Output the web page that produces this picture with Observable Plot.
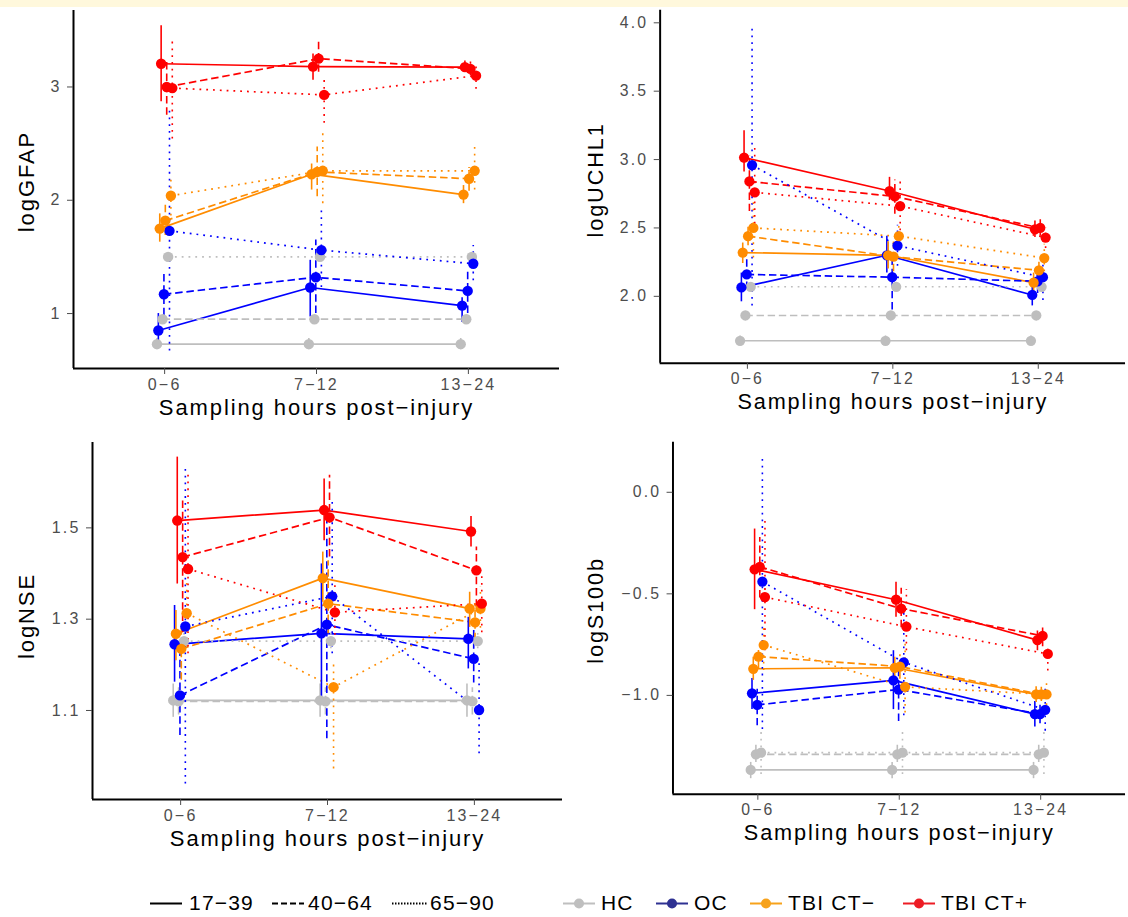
<!DOCTYPE html>
<html><head><meta charset="utf-8">
<script src="https://cdn.jsdelivr.net/npm/d3@7"></script>
<script src="https://cdn.jsdelivr.net/npm/@observablehq/plot@0.6"></script>
<style>
body{margin:0;background:#fff;}
#wrap{position:relative;width:1128px;height:917px;overflow:hidden;background:#fff;font-family:'Liberation Sans',Arial,Helvetica,sans-serif;}
#band{position:absolute;left:0;top:0;width:1128px;height:7px;background:#FFF8DC;}
.panel{position:absolute;}
.leg{position:absolute;top:890px;height:26px;font-size:21px;letter-spacing:1.2px;color:#000;line-height:26px;white-space:nowrap;}
.sw{position:absolute;top:891px;}
</style></head>
<body><div id="wrap"><div id="band"></div></div>
<script>
const times = ["0−6", "7−12", "13−24"];
const groups = ["HC", "OC", "TBI CT−", "TBI CT+"];
const ages = ["17−39", "40−64", "65−90"];
const groupColors = ["#BEBEBE", "#0000FF", "#FF8C00", "#FF0000"];
const legendColors = ["#BFBFBF", "#2E3192", "#F7A21B", "#ED1C24"];

// rows: HC(17−39,40−64,65−90), OC(...), TBI CT−(...), TBI CT+(...); columns: times
const gfapMean = [
  [0.73,0.73,0.73],[0.95,0.95,0.95],[1.50,1.50,1.50],
  [0.85,1.23,1.07],[1.17,1.32,1.20],[1.73,1.56,1.44],
  [1.75,2.23,2.05],[1.82,2.25,2.19],[2.04,2.26,2.26],
  [3.205,3.18,3.175],[3.00,3.25,3.16],[2.99,2.93,3.10]];
const gfapLo = [
  [0.68,0.68,0.68],[0.91,0.91,0.91],[1.47,1.47,1.47],
  [0.70,0.97,0.92],[0.98,1.00,1.00],[0.67,1.23,1.29],
  [1.63,2.09,1.97],[1.69,2.03,2.08],[1.86,1.97,2.09],
  [2.87,3.06,3.13],[2.75,3.13,3.10],[2.54,2.68,2.98]];
const gfapHi = [
  [0.78,0.78,0.78],[0.99,0.99,0.99],[1.53,1.53,1.53],
  [1.00,1.47,1.14],[1.38,1.65,1.38],[2.79,1.91,1.60],
  [1.88,2.32,2.13],[1.96,2.47,2.29],[2.20,2.59,2.47],
  [3.54,3.29,3.23],[3.25,3.40,3.22],[3.44,3.09,3.22]];

const uchl1Mean = [
  [1.675,1.675,1.675],[1.86,1.86,1.86],[2.07,2.07,2.07],
  [2.065,2.30,2.01],[2.16,2.14,2.11],[2.96,2.37,2.14],
  [2.32,2.30,2.10],[2.44,2.29,2.19],[2.50,2.44,2.28],
  [3.015,2.77,2.49],[2.84,2.73,2.50],[2.76,2.66,2.43]];
const uchl1Lo = [
  [1.64,1.64,1.64],[1.82,1.82,1.82],[2.04,2.04,2.04],
  [1.96,2.17,1.93],[2.05,1.90,2.02],[1.93,2.22,1.97],
  [2.24,2.20,2.03],[2.37,2.18,2.13],[2.28,2.35,2.18],
  [2.91,2.70,2.43],[2.62,2.60,2.44],[2.48,2.43,2.35]];
const uchl1Hi = [
  [1.71,1.71,1.71],[1.90,1.90,1.90],[2.10,2.10,2.10],
  [2.17,2.44,2.07],[2.27,2.29,2.20],[3.98,2.52,2.27],
  [2.39,2.40,2.17],[2.51,2.40,2.25],[2.72,2.53,2.38],
  [3.21,2.87,2.55],[3.03,2.85,2.56],[3.11,2.86,2.50]];

const nseMean = [
  [1.122,1.122,1.122],[1.12,1.12,1.12],[1.252,1.252,1.252],
  [1.245,1.269,1.257],[1.133,1.288,1.213],[1.284,1.35,1.101],
  [1.268,1.39,1.323],[1.235,1.334,1.293],[1.313,1.151,1.323],
  [1.516,1.539,1.492],[1.436,1.523,1.407],[1.41,1.315,1.334]];
const nseLo = [
  [1.085,1.085,1.085],[1.09,1.09,1.09],[1.235,1.235,1.235],
  [1.162,1.122,1.191],[1.045,1.038,1.16],[0.939,1.224,1.005],
  [1.209,1.337,1.282],[1.166,1.268,1.253],[1.24,0.972,1.28],
  [1.377,1.472,1.458],[1.27,1.436,1.326],[1.224,1.25,1.27]];
const nseHi = [
  [1.158,1.158,1.158],[1.15,1.15,1.15],[1.27,1.27,1.27],
  [1.33,1.421,1.304],[1.224,1.53,1.282],[1.629,1.563,1.21],
  [1.319,1.447,1.359],[1.282,1.428,1.334],[1.38,1.209,1.37],
  [1.655,1.607,1.525],[1.56,1.615,1.458],[1.626,1.38,1.40]];

const s100bMean = [
  [-1.367,-1.367,-1.367],[-1.29,-1.29,-1.29],[-1.282,-1.282,-1.282],
  [-0.99,-0.926,-1.092],[-1.047,-0.971,-1.092],[-0.44,-0.837,-1.071],
  [-0.869,-0.864,-0.995],[-0.809,-0.858,-0.995],[-0.752,-0.958,-0.995],
  [-0.379,-0.529,-0.728],[-0.367,-0.573,-0.707],[-0.516,-0.662,-0.796]];
const s100bLo = [
  [-1.41,-1.41,-1.41],[-1.33,-1.33,-1.33],[-1.39,-1.39,-1.39],
  [-1.07,-1.07,-1.156],[-1.15,-1.128,-1.14],[-1.168,-1.10,-1.176],
  [-0.926,-0.926,-1.035],[-0.87,-0.92,-1.03],[-0.878,-1.087,-1.05],
  [-0.578,-0.615,-0.78],[-0.52,-0.667,-0.76],[-0.78,-0.78,-0.88]];
const s100bHi = [
  [-1.33,-1.33,-1.33],[-1.245,-1.245,-1.245],[-1.168,-1.168,-1.168],
  [-0.917,-0.78,-1.03],[-0.97,-0.84,-1.04],[0.175,-0.55,-0.97],
  [-0.812,-0.812,-0.957],[-0.76,-0.80,-0.96],[-0.65,-0.747,-0.94],
  [-0.181,-0.443,-0.683],[-0.222,-0.472,-0.65],[-0.133,-0.48,-0.765]];

const yTicksGFAP = [1, 2, 3];
const yTicksUCHL1 = [2.0, 2.5, 3.0, 3.5, 4.0];
const yTicksNSE = [1.1, 1.3, 1.5];
const yTicksS100b = [-1.0, -0.5, 0.0];

const dashes = [null, "7.5,3.8", "1.8,5"];
const dodgeWidth = 0.11;

function records(mean, lo, hi) {
  const out = [];
  groups.forEach((g, gi) => ages.forEach((a, ai) => times.forEach((t, ti) => {
    const row = gi * 3 + ai;
    const slot = ai * 4 + gi;
    out.push({group: g, age: a, ai, time: t, key: g + a,
      x: ti + 1 + (slot - 5.5) * dodgeWidth / 12,
      mean: mean[row][ti], lo: lo[row][ti], hi: hi[row][ti]});
  })));
  return out;
}

const panels = [
  {title: "logGFAP", data: records(gfapMean, gfapLo, gfapHi), left: 0, top: 0, width: 564, height: 430,
   ml: 73, mt: 10, mr: 5, mb: 62, yDomain: [0.515, 3.675], yTicks: yTicksGFAP, fmt: d => String(d), tdx: -47, tdy: -8},
  {title: "logUCHL1", data: records(uchl1Mean, uchl1Lo, uchl1Hi), left: 564, top: 0, width: 572, height: 430,
   ml: 97, mt: 10, mr: 3, mb: 62, yDomain: [1.51, 4.091], yTicks: yTicksUCHL1, fmt: d3.format(".1f"), tdx: -65, tdy: -7},
  {title: "logNSE", data: records(nseMean, nseLo, nseHi), left: 0, top: 430, width: 566, height: 430,
   ml: 92, mt: 12, mr: 4, mb: 61, yDomain: [0.905, 1.687], yTicks: yTicksNSE, fmt: d3.format(".1f"), tdx: -66, tdy: -5},
  {title: "logS100b", data: records(s100bMean, s100bLo, s100bHi), left: 566, top: 430, width: 570, height: 430,
   ml: 108, mt: 12, mr: 3, mb: 61, yDomain: [-1.487, 0.246], yTicks: yTicksS100b, fmt: d3.format(".1f"), tdx: -78, tdy: -8}
];

const wrap = document.getElementById("wrap");
for (const p of panels) {
  const marks = [];
  ages.forEach((a, ai) => {
    const sub = p.data.filter(d => d.ai === ai);
    marks.push(Plot.line(sub, {x: "x", y: "mean", z: "key", stroke: "group", strokeWidth: 1.7,
      strokeDasharray: dashes[ai] || undefined, strokeLinecap: "butt"}));
  });
  ages.forEach((a, ai) => {
    const sub = p.data.filter(d => d.ai === ai);
    marks.push(Plot.ruleX(sub, {x: "x", y1: "lo", y2: "hi", stroke: "group", strokeWidth: 1.6,
      strokeDasharray: dashes[ai] || undefined, strokeLinecap: "butt"}));
  });
  marks.push(Plot.dot(p.data, {x: "x", y: "mean", fill: "group", r: 5.2, stroke: "none"}));
  marks.push(Plot.ruleX([0.4], {stroke: "black", strokeWidth: 2}));
  marks.push(Plot.ruleY([p.yDomain[0]], {stroke: "black", strokeWidth: 2}));
  marks.push(Plot.axisX({ticks: [1, 2, 3], tickFormat: d => times[d - 1], tickSize: 6, tickPadding: 4, label: null, fontSize: 16}));
  marks.push(Plot.axisY({ticks: p.yTicks, tickFormat: p.fmt, tickSize: 6, tickPadding: 6, label: null, fontSize: 16}));
  marks.push(Plot.text(["Sampling hours post−injury"], {frameAnchor: "bottom", dy: 39, text: d => d,
    textAnchor: "middle", lineAnchor: "middle", fontSize: 22, fill: "black"}));
  marks.push(Plot.text([p.title], {frameAnchor: "left", dx: p.tdx, dy: p.tdy, rotate: -90, text: d => d,
    textAnchor: "middle", lineAnchor: "middle", fontSize: 22, fill: "black"}));
  const svg = Plot.plot({
    width: p.width, height: p.height,
    marginLeft: p.ml, marginTop: p.mt, marginRight: p.mr, marginBottom: p.mb,
    x: {domain: [0.4, 3.6]},
    y: {domain: p.yDomain},
    color: {domain: groups, range: groupColors},
    style: {background: "transparent", fontFamily: "'Liberation Sans', Arial, sans-serif", fontSize: "16px", color: "#4d4d4d", overflow: "visible"},
    marks
  });
  const div = document.createElement("div");
  div.className = "panel";
  div.style.left = p.left + "px";
  div.style.top = p.top + "px";
  div.appendChild(svg);
  wrap.appendChild(div);
  svg.querySelectorAll("text").forEach(t => {
    const fs = parseFloat(getComputedStyle(t).fontSize);
    t.style.letterSpacing = fs > 19 ? "1.9px" : "2.2px";
  });
}

// legend
const ns = "http://www.w3.org/2000/svg";
function swatch(left, w, dash, color, dot) {
  const s = document.createElementNS(ns, "svg");
  s.setAttribute("width", w); s.setAttribute("height", 24);
  s.setAttribute("class", "sw");
  s.style.left = left + "px";
  const l = document.createElementNS(ns, "line");
  l.setAttribute("x1", 0); l.setAttribute("x2", w); l.setAttribute("y1", 12.5); l.setAttribute("y2", 12.5);
  l.setAttribute("stroke", color); l.setAttribute("stroke-width", 2);
  if (dash) l.setAttribute("stroke-dasharray", dash);
  s.appendChild(l);
  if (dot) {
    const c = document.createElementNS(ns, "circle");
    c.setAttribute("cx", w / 2); c.setAttribute("cy", 12.5); c.setAttribute("r", 5);
    c.setAttribute("fill", color);
    s.appendChild(c);
  }
  wrap.appendChild(s);
}
function label(left, text) {
  const d = document.createElement("div");
  d.className = "leg"; d.style.left = left + "px"; d.textContent = text;
  wrap.appendChild(d);
}
const ageSwatchX = [150, 272, 392];
const ageTextX = [189, 308, 430];
const ageLegendDash = [null, "6,3", "1.5,1.5"];
ages.forEach((a, i) => { swatch(ageSwatchX[i], i === 2 ? 35 : 32, ageLegendDash[i], "#000", false); label(ageTextX[i], a); });
const grpSwatchX = [563, 656, 750, 903];
const grpTextX = [601, 694, 788, 941];
groups.forEach((g, i) => { swatch(grpSwatchX[i], 32, null, legendColors[i], true); label(grpTextX[i], g); });
</script></body></html>
